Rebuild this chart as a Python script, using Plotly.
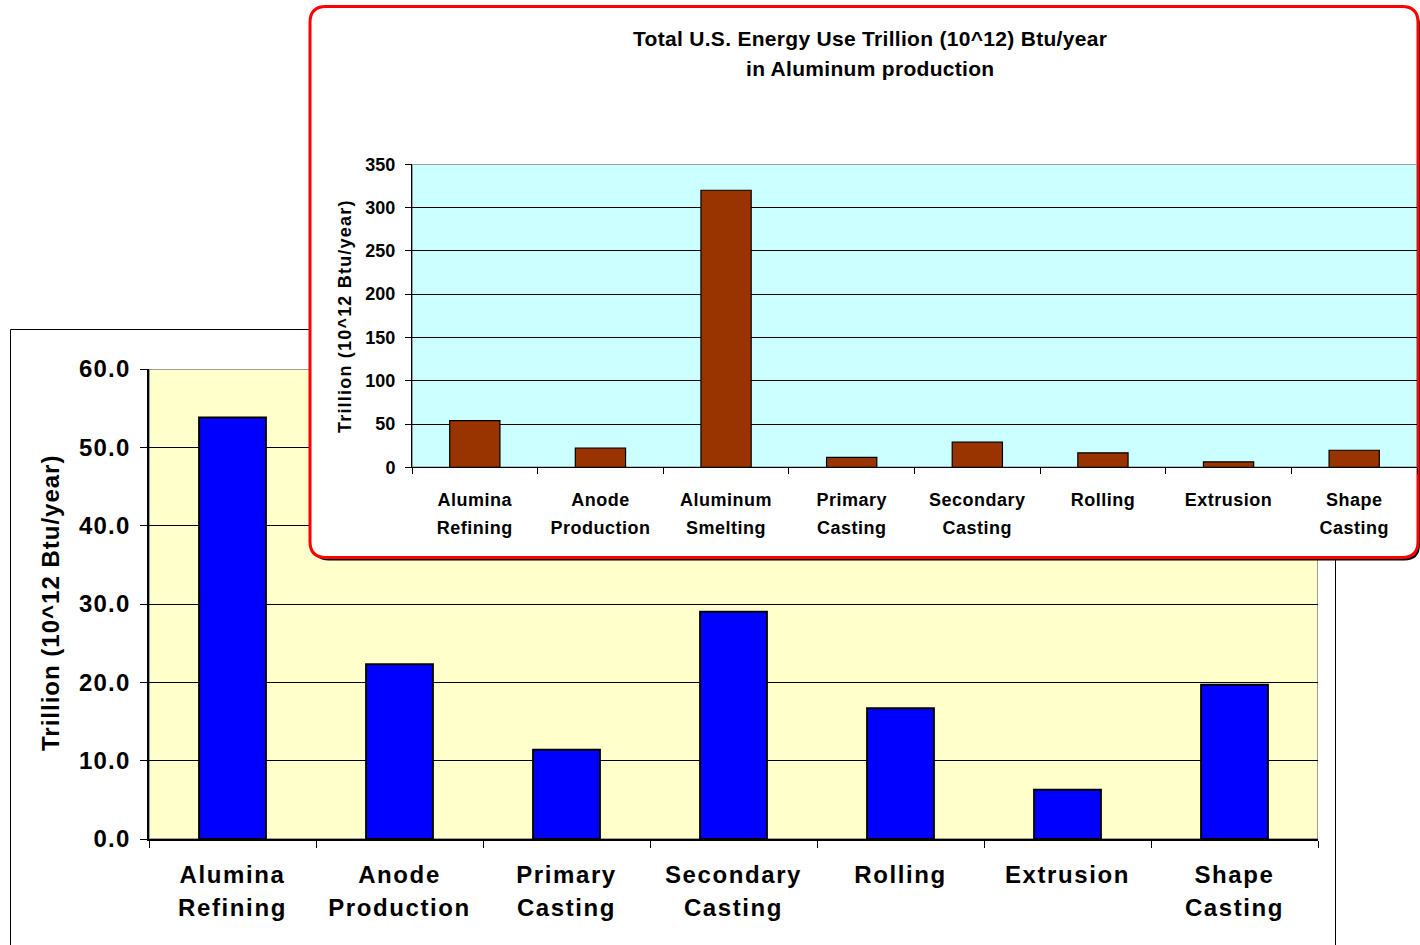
import plotly.graph_objects as go

W, H = 1420, 945
FONT = "Liberation Sans"

# Energy use by process step (trillion Btu/year)
back_categories = ["Alumina<br>Refining", "Anode<br>Production", "Primary<br>Casting",
                   "Secondary<br>Casting", "Rolling", "Extrusion", "Shape<br>Casting"]
back_values = [53.8, 22.3, 11.4, 29.0, 16.7, 6.3, 19.7]
back_yticks = [0, 10, 20, 30, 40, 50, 60]

front_categories = ["Alumina<br>Refining", "Anode<br>Production", "Aluminum<br>Smelting",
                    "Primary<br>Casting", "Secondary<br>Casting", "Rolling", "Extrusion",
                    "Shape<br>Casting"]
front_values = [53.8, 22.3, 320.0, 11.4, 29.0, 16.7, 6.3, 19.7]
front_yticks = [0, 50, 100, 150, 200, 250, 300, 350]

front_title_lines = ["Total U.S. Energy Use Trillion (10^12) Btu/year", "in Aluminum production"]
y_title = "Trillion (10^12 Btu/year)"


def px_x(p):
    return p / W


def px_y(p):
    return 1 - p / H


def spaced(label, size, spacing):
    """Wrap each line of a label in a span with its own glyph size and tracking."""
    return "<br>".join(
        f"<span style='font-size:{size}px;letter-spacing:{spacing}px'>{line}</span>"
        for line in label.split("<br>")
    )


fig = go.Figure()

# Back chart: blue bars on a pale yellow plot area
fig.add_trace(go.Bar(
    x=back_categories, y=back_values, xaxis="x", yaxis="y",
    marker=dict(color="#0000FF", line=dict(color="black", width=2)),
    showlegend=False, hoverinfo="skip",
))

# Layer holding the rounded front panel (drawn in pixel units)
fig.add_trace(go.Scatter(x=[], y=[], xaxis="x2", yaxis="y2", showlegend=False, hoverinfo="skip"))

# Front chart: brown bars on a light cyan plot area
fig.add_trace(go.Bar(
    x=front_categories, y=front_values, xaxis="x3", yaxis="y3",
    marker=dict(color="#993300", line=dict(color="black", width=1.2)),
    showlegend=False, hoverinfo="skip",
))


def rounded_rect(x0, y0, x1, y1, r):
    return (f"M {x0 + r},{y0} L {x1 - r},{y0} Q {x1},{y0} {x1},{y0 + r} "
            f"L {x1},{y1 - r} Q {x1},{y1} {x1 - r},{y1} L {x0 + r},{y1} "
            f"Q {x0},{y1} {x0},{y1 - r} L {x0},{y0 + r} Q {x0},{y0} {x0 + r},{y0} Z")


bx0, by0, bx1, by1, br = 310, 6.5, 1418, 557.5, 16

# open frame around the back chart (its bottom edge runs off the page)
fl, fr, ft = px_x(10.5), px_x(1335.5), px_y(329.5)
frame_path = f"M {fl},0 L {fl},{ft} L {fr},{ft} L {fr},0"

shapes = [
    dict(type="path", xref="paper", yref="paper", layer="below",
         path=frame_path, line=dict(color="black", width=1), fillcolor="rgba(0,0,0,0)"),
    # back plot area
    dict(type="rect", xref="x", yref="y", layer="below",
         x0=-0.5, x1=6.5, y0=0, y1=60,
         line=dict(color="#808080", width=1.5), fillcolor="#FFFFCC"),
    # front panel shadow and panel
    dict(type="path", xref="x2", yref="y2", layer="below",
         path=rounded_rect(bx0 + 3, by0 + 3, bx1 + 2, by1 + 3, br),
         line=dict(width=0), fillcolor="black"),
    dict(type="path", xref="x2", yref="y2", layer="below",
         path=rounded_rect(bx0, by0, bx1, by1, br),
         line=dict(color="#FF0000", width=3), fillcolor="white"),
    # front plot area
    dict(type="rect", xref="x3", yref="y3", layer="below",
         x0=-0.5, x1=7.5, y0=0, y1=350,
         line=dict(color="#808080", width=1.5), fillcolor="#CCFFFF"),
]

annotations = [
    dict(text=spaced(y_title, 24, 1), xref="paper", yref="paper", x=px_x(50), y=px_y(603),
         textangle=-90, showarrow=False, xanchor="center", yanchor="middle",
         font=dict(family=FONT, size=24, color="black", weight="bold")),
    dict(text=spaced(front_title_lines[0], 21, 0.3), xref="paper", yref="paper",
         x=px_x(870), y=px_y(38), showarrow=False, xanchor="center", yanchor="middle",
         font=dict(family=FONT, size=21, color="black", weight="bold")),
    dict(text=spaced(front_title_lines[1], 21, 0.3), xref="paper", yref="paper",
         x=px_x(870), y=px_y(68), showarrow=False, xanchor="center", yanchor="middle",
         font=dict(family=FONT, size=21, color="black", weight="bold")),
    dict(text=spaced(y_title, 18, 1.2), xref="paper", yref="paper", x=px_x(345), y=px_y(316),
         textangle=-90, showarrow=False, xanchor="center", yanchor="middle",
         font=dict(family=FONT, size=18, color="black", weight="bold")),
]

# tick font sizes set the line pitch; the spans set the glyph size
back_xfont = dict(family=FONT, size=25.4, color="black", weight="bold")
back_yfont = dict(family=FONT, size=24, color="black", weight="bold")
front_xfont = dict(family=FONT, size=21.5, color="black", weight="bold")
front_yfont = dict(family=FONT, size=18, color="black", weight="bold")

fig.update_layout(
    width=W, height=H, autosize=False,
    margin=dict(l=0, r=0, t=0, b=0, pad=0, autoexpand=False),
    paper_bgcolor="white", plot_bgcolor="rgba(0,0,0,0)",
    bargap=0.6, showlegend=False,
    shapes=shapes, annotations=annotations,
    xaxis=dict(domain=[px_x(149), px_x(1318)], anchor="y", type="category",
               range=[-0.5, 6.5], showline=True, linecolor="black", linewidth=1.5,
               tickmode="array", tickvals=back_categories,
               ticktext=[spaced(c, 24, 1.6) for c in back_categories],
               ticks="outside", tickson="boundaries", ticklen=7, tickcolor="black",
               tickfont=back_xfont, showgrid=False, zeroline=False, fixedrange=True,
               ticklabelstandoff=12),
    yaxis=dict(domain=[px_y(839), px_y(369)], anchor="x", range=[0, 60],
               tickmode="array", tickvals=back_yticks,
               ticktext=[spaced(f"{v:.1f}", 24, 1.2) for v in back_yticks],
               showline=True, linecolor="black",
               linewidth=1.5, ticks="outside", ticklen=7, tickcolor="black",
               tickfont=back_yfont, showgrid=True, gridcolor="black", gridwidth=1,
               zeroline=False, fixedrange=True, ticklabelstandoff=5),
    xaxis2=dict(domain=[0, 1], anchor="y2", range=[0, W], visible=False, fixedrange=True),
    yaxis2=dict(domain=[0, 1], anchor="x2", range=[H, 0], visible=False, fixedrange=True),
    xaxis3=dict(domain=[px_x(412), px_x(1417)], anchor="y3", type="category",
                range=[-0.5, 7.5], showline=True, linecolor="black", linewidth=1,
                tickmode="array", tickvals=front_categories,
                ticktext=[spaced(c, 18, 0.5) for c in front_categories],
                ticks="outside", tickson="boundaries", ticklen=6, tickcolor="black",
                tickfont=front_xfont, showgrid=False, zeroline=False, fixedrange=True,
                ticklabelstandoff=12),
    yaxis3=dict(domain=[px_y(467.3), px_y(164.3)], anchor="x3", range=[0, 350],
                tickvals=front_yticks, showline=True, linecolor="black", linewidth=1,
                ticks="outside", ticklen=6, tickcolor="black", tickfont=front_yfont,
                showgrid=True, gridcolor="black", gridwidth=1, zeroline=False,
                fixedrange=True, ticklabelstandoff=6),
)

fig.write_html("out.html", config={"displayModeBar": False})
